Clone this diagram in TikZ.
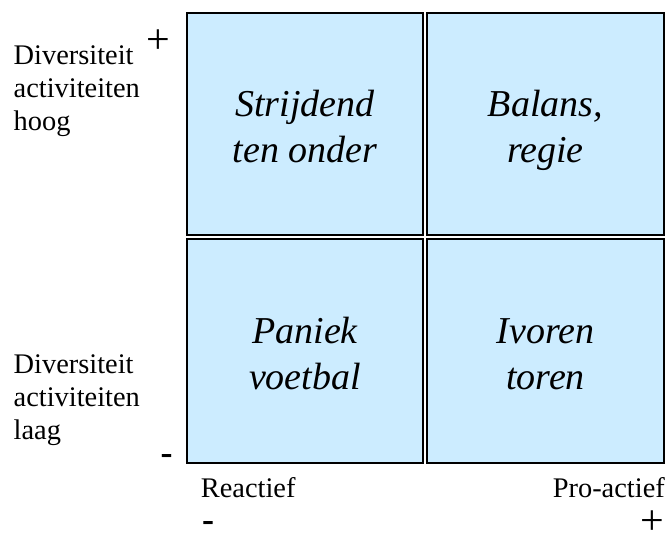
\documentclass[tikz,border=0pt]{standalone}
\usepackage{fontspec}
\setmainfont{Liberation Serif}
\definecolor{qfill}{RGB}{204,236,255}
\tikzset{
  quad/.style={draw=black, line width=2pt, fill=qfill, inner sep=0pt},
  qtext/.style={font=\fontsize{38}{46}\selectfont\itshape, align=center, inner sep=0pt, yshift=-5.8pt},
  axlabel/.style={font=\fontsize{28.4}{33}\selectfont, align=left, inner sep=0pt, anchor=north west},
  dirlabel/.style={font=\fontsize{28.4}{33}\selectfont, inner sep=0pt},
  sign/.style={font=\fontsize{42}{44}\selectfont, inner sep=0pt, anchor=base},
  bsign/.style={font=\fontsize{36}{40}\selectfont\bfseries, inner sep=0pt, anchor=base}
}
\begin{document}
\begin{tikzpicture}[x=1pt, y=-1pt]
\useasboundingbox (0,0) rectangle (670,536);
\node[quad, minimum width=236pt, minimum height=222pt] (q1) at (305,124) {};
\node[quad, minimum width=237pt, minimum height=222pt] (q2) at (545.5,124) {};
\node[quad, minimum width=236pt, minimum height=224pt] (q3) at (305,351) {};
\node[quad, minimum width=237pt, minimum height=224pt] (q4) at (545.5,351) {};
\node[qtext] (t1) at (q1.center) {\strut Strijdend\\\strut ten onder};
\node[qtext] (t2) at (q2.center) {\strut Balans,\\\strut regie};
\node[qtext] (t3) at (q3.center) {\strut Paniek\\\strut voetbal};
\node[qtext] (t4) at (q4.center) {\strut Ivoren\\\strut toren};
\node[axlabel] (hoog) at (13.5,40.9) {\strut Diversiteit\\\strut activiteiten\\\strut hoog};
\node[axlabel] (laag) at (13.5,349.9) {\strut Diversiteit\\\strut activiteiten\\\strut laag};
\node[dirlabel, anchor=base west] (reac) at (200.7,497) {Reactief};
\node[dirlabel, anchor=base east] (pro) at (665,497) {Pro-actief};
\node[sign] (plustop) at (158,53.5) {+};
\node[bsign] (minleft) at (166.5,464) {-};
\node[bsign] (minbot) at (208,531) {-};
\node[sign] (plusbot) at (652.5,534.5) {+};
\end{tikzpicture}
\end{document}
